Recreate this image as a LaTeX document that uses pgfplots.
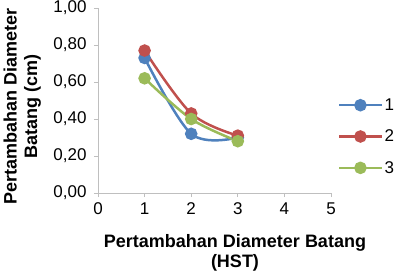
\documentclass[border=0pt]{standalone}
\usepackage{pgfplots}
\pgfplotsset{compat=1.18}
\usepackage{fontspec}
\setmainfont{Liberation Sans}
\definecolor{s1}{HTML}{4F81BD}
\definecolor{s2}{HTML}{C0504D}
\definecolor{s3}{HTML}{9BBB59}
\definecolor{axgray}{HTML}{BFBFBF}
\begin{document}
\begin{tikzpicture}
\useasboundingbox (-98pt,-85pt) rectangle (303pt,193pt);
\begin{axis}[
  at={(0pt,0pt)}, anchor=south west,
  scale only axis, width=233pt, height=185pt,
  xmin=0, xmax=5, ymin=0, ymax=1,
  axis lines*=left,
  axis line style={axgray, line width=0.8pt},
  xtick={0,1,2,3,4,5},
  ytick={0,0.2,0.4,0.6,0.8,1},
  tick style={axgray, line width=0.8pt},
  tick align=outside, major tick length=4pt,
  tick label style={font=\fontsize{17}{19}\selectfont},
  /pgf/number format/assume math mode=true,
  yticklabel style={xshift=-4pt, /pgf/number format/.cd, fixed, fixed zerofill, precision=2, use comma},
  xticklabel style={yshift=-2pt},
  xlabel={Pertambahan Diameter Batang\\(HST)},
  xlabel style={font=\fontsize{18}{20}\selectfont\bfseries, align=center,
    at={(axis description cs:0.588,-0.324)}, anchor=center},
  ylabel={Pertambahan Diameter\\Batang (cm)},
  ylabel style={font=\fontsize{18}{20.5}\selectfont\bfseries, align=center,
    at={(axis description cs:-0.325,0.47)}, anchor=center},
  clip=false,
  legend style={draw=none, fill=none, at={(axis description cs:1.03,0.305)}, anchor=west,
    font=\fontsize{17}{19}\selectfont, row sep=14pt, inner xsep=0pt},
  legend cell align=left,
  legend image code/.code={\draw[mark repeat=2,mark phase=2] plot coordinates {(0pt,0pt)(21pt,0pt)(42pt,0pt)};},
  every axis plot/.append style={line width=2.5pt, smooth, tension=0.55, mark=*, mark size=5pt},
]
\addplot[color=s1, mark options={fill=s1, draw=s1}] coordinates {(1,0.73) (2,0.32) (3,0.30)};
\addlegendentry{1}
\addplot[color=s2, mark options={fill=s2, draw=s2}] coordinates {(1,0.77) (2,0.43) (3,0.31)};
\addlegendentry{2}
\addplot[color=s3, mark options={fill=s3, draw=s3}] coordinates {(1,0.62) (2,0.40) (3,0.28)};
\addlegendentry{3}
\end{axis}
\end{tikzpicture}
\end{document}
